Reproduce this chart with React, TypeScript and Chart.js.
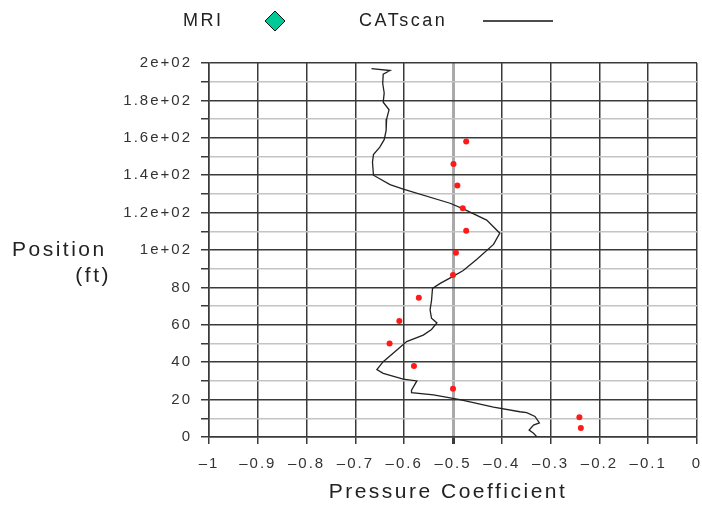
import React, { useEffect, useRef } from "react";
import { Chart, registerables } from "chart.js";

Chart.register(...registerables);

// ---- Data ----
const mriPressure = [-0.473, -0.499, -0.491, -0.48, -0.473, -0.494, -0.5, -0.57, -0.61, -0.63, -0.58, -0.5, -0.241, -0.238];
const mriPosition = [158, 146, 134.5, 122.3, 110.3, 98.5, 86.6, 74.5, 62, 50, 38, 25.8, 10.5, 4.8];

const catPressure = [
  -0.667, -0.629, -0.643, -0.644, -0.641, -0.643, -0.631, -0.636, -0.637, -0.641,
  -0.65, -0.663, -0.665, -0.663, -0.629, -0.602, -0.506, -0.479, -0.431, -0.404,
  -0.417, -0.451, -0.479, -0.499, -0.527, -0.542, -0.544, -0.547, -0.544, -0.533,
  -0.544, -0.561, -0.595, -0.615, -0.643, -0.656, -0.643, -0.602, -0.574, -0.585,
  -0.585, -0.54, -0.486, -0.417, -0.363, -0.349, -0.332, -0.323, -0.335, -0.344,
  -0.335, -0.328,
];
const catPosition = [
  197, 196, 194, 189, 184, 179, 175, 170, 164, 159,
  155, 151, 147, 140, 135, 132.5, 125, 122, 116, 109,
  103, 95, 89, 86, 82, 79.5, 73, 68, 63.5, 61,
  57.5, 54.5, 51, 46.5, 40.3, 36, 34, 31, 30, 25,
  23.7, 22.5, 20, 16, 13.5, 13, 11, 7.5, 6.4, 3.7,
  2, 0,
];

const xTickValues = [-1, -0.9, -0.8, -0.7, -0.6, -0.5, -0.4, -0.3, -0.2, -0.1, 0];
const xTickLabels = ["–1", "–0.9", "–0.8", "–0.7", "–0.6", "–0.5", "–0.4", "–0.3", "–0.2", "–0.1", "0"];
const yTickValues = [0, 20, 40, 60, 80, 100, 120, 140, 160, 180, 200];
const yTickLabels = ["0", "20", "40", "60", "80", "1e+02", "1.2e+02", "1.4e+02", "1.6e+02", "1.8e+02", "2e+02"];

const seriesNames = ["MRI", "CATscan"];
const xTitle = "Pressure Coefficient";
const yTitleLines = ["Position", "(ft)"];

const FONT = "'Liberation Sans', Arial, Helvetica, sans-serif";

const near = (a: number, b: number) => Math.abs(a - b) < 1e-6;

const decorPlugin = {
  id: "decor",
  beforeDraw(chart: any) {
    chart.ctx.letterSpacing = "2px";
  },
  afterDraw(chart: any) {
    const ctx = chart.ctx as CanvasRenderingContext2D;
    const area = chart.chartArea;
    ctx.save();
    ctx.fillStyle = "#222";
    ctx.textBaseline = "middle";
    // Legend
    (ctx as any).letterSpacing = "2.5px";
    ctx.font = `18px ${FONT}`;
    ctx.textAlign = "left";
    ctx.fillText(seriesNames[0], 183, 21);
    ctx.fillText(seriesNames[1], 359, 21);
    // diamond
    ctx.beginPath();
    ctx.moveTo(275, 11);
    ctx.lineTo(285, 21);
    ctx.lineTo(275, 31);
    ctx.lineTo(265, 21);
    ctx.closePath();
    ctx.fillStyle = "#00c896";
    ctx.fill();
    ctx.strokeStyle = "#111";
    ctx.lineWidth = 1;
    ctx.stroke();
    // line sample
    ctx.beginPath();
    ctx.moveTo(483, 21);
    ctx.lineTo(553, 21);
    ctx.strokeStyle = "#111";
    ctx.lineWidth = 1.5;
    ctx.stroke();

    // Axis titles
    ctx.fillStyle = "#222";
    ctx.font = `21px ${FONT}`;
    ctx.textAlign = "center";
    ctx.fillText(xTitle, (area.left + area.right) / 2 - 5, 492);
    ctx.textAlign = "left";
    ctx.fillText(yTitleLines[0], 12, 250);
    ctx.textAlign = "right";
    ctx.fillText(yTitleLines[1], 111, 276);
    ctx.restore();
  },
};

export default function App() {
  const canvasRef = useRef<HTMLCanvasElement | null>(null);

  useEffect(() => {
    const canvas = canvasRef.current;
    if (!canvas) return;
    const mriData = mriPressure.map((x, i) => ({ x, y: mriPosition[i] }));
    const catData = catPressure.map((x, i) => ({ x, y: catPosition[i] }));

    const chart = new Chart(canvas, {
      type: "scatter",
      data: {
        datasets: [
          {
            label: seriesNames[0],
            data: mriData,
            showLine: false,
            pointRadius: 3,
            pointBackgroundColor: "#ff1a1a",
            pointBorderWidth: 0,
            backgroundColor: "#ff1a1a",
            order: 1,
          },
          {
            label: seriesNames[1],
            data: catData,
            showLine: true,
            borderColor: "#222",
            borderWidth: 1.3,
            pointRadius: 0,
            tension: 0,
            fill: false,
            order: 2,
          },
        ],
      },
      options: {
        animation: false,
        responsive: false,
        maintainAspectRatio: false,
        layout: { padding: { top: 63, right: 5, left: 0, bottom: 0 } },
        plugins: {
          legend: { display: false },
          tooltip: { enabled: false },
          title: { display: false },
        },
        scales: {
          x: {
            type: "linear",
            min: -1,
            max: 0,
            afterFit: (s: any) => {
              s.height = 69;
              s.paddingRight = 0;
              s.paddingLeft = 0;
            },
            afterBuildTicks: (s: any) => {
              s.ticks = xTickValues.map((v) => ({ value: v }));
            },
            ticks: {
              autoSkip: false,
              maxRotation: 0,
              padding: 11,
              color: "#333",
              font: { family: FONT, size: 15 },
              callback: (v: any) => {
                const i = xTickValues.findIndex((t) => near(t, Number(v)));
                return i >= 0 ? xTickLabels[i] : "";
              },
            },
            grid: {
              color: (c: any) => (c.tick && near(c.tick.value, -0.5) ? "#a9a9a9" : "#3a3a3a"),
              lineWidth: (c: any) => (c.tick && near(c.tick.value, -0.5) ? 3 : 1.5),
              tickColor: "#3a3a3a",
              tickLength: 7,
              drawTicks: true,
            },
            border: { display: true, color: "#3a3a3a", width: 1.5 },
          },
          y: {
            type: "linear",
            min: 0,
            max: 200,
            afterFit: (s: any) => {
              s.width = 209;
              s.paddingTop = 0;
              s.paddingBottom = 0;
            },
            afterBuildTicks: (s: any) => {
              const t = [];
              for (let v = 0; v <= 200; v += 10) t.push({ value: v });
              s.ticks = t;
            },
            ticks: {
              autoSkip: false,
              padding: 9,
              color: "#333",
              font: { family: FONT, size: 15 },
              callback: (v: any) => {
                const i = yTickValues.findIndex((t) => near(t, Number(v)));
                return i >= 0 ? yTickLabels[i] : "";
              },
            },
            grid: {
              color: (c: any) => (c.tick && Math.round(c.tick.value) % 20 === 0 ? "#3a3a3a" : "#c4c4c4"),
              lineWidth: 1.5,
              tickColor: "#3a3a3a",
              tickLength: 8,
              drawTicks: true,
            },
            border: { display: true, color: "#3a3a3a", width: 1.5 },
          },
        },
      },
      plugins: [decorPlugin],
    });

    return () => {
      chart.destroy();
    };
  }, []);

  return (
    <div style={{ position: "absolute", left: 0, top: 0, width: 702, height: 506, background: "#fff" }}>
      <canvas ref={canvasRef} width={702} height={506} style={{ display: "block", width: 702, height: 506 }} />
    </div>
  );
}
